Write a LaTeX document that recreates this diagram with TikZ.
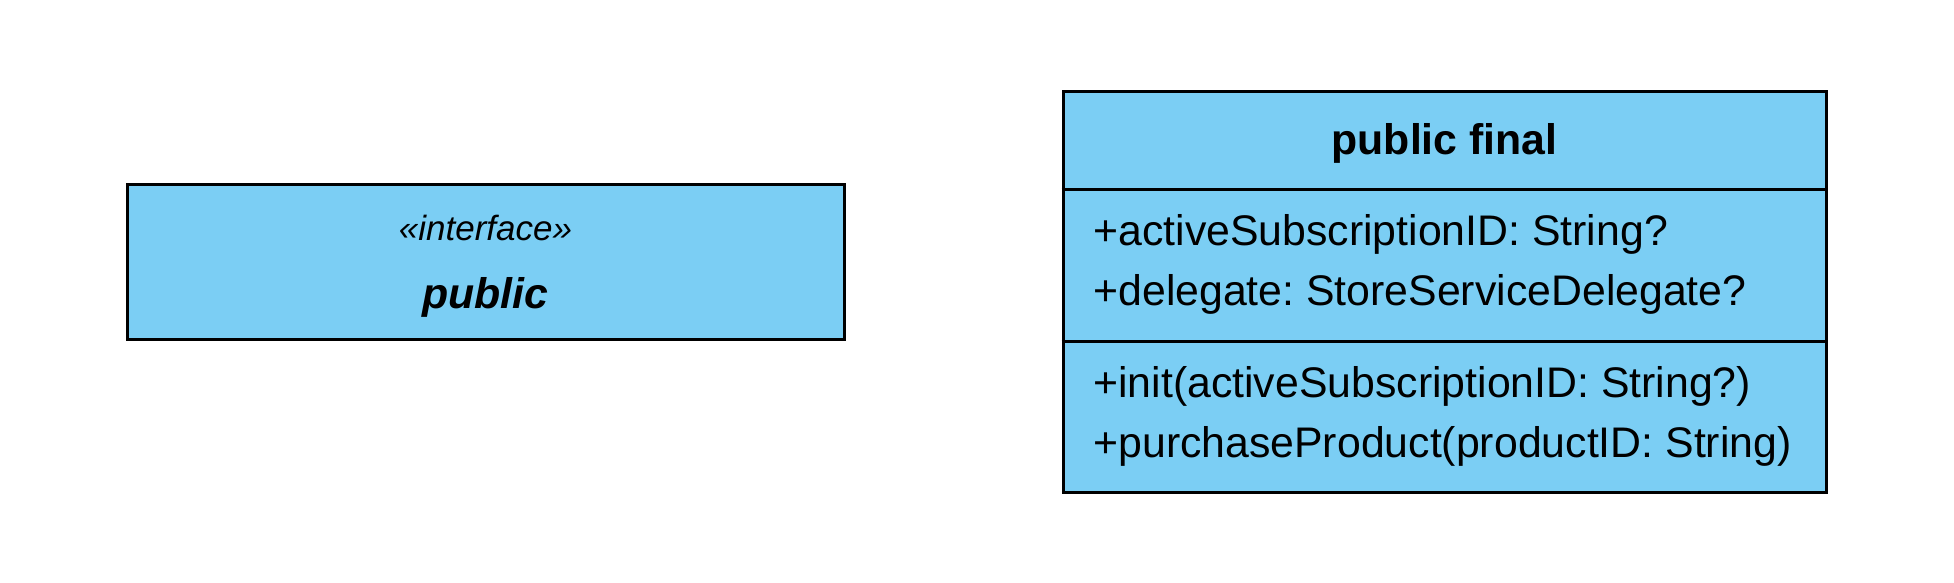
\documentclass[tikz,border=0pt]{standalone}
\usepackage{fontspec}
\setmainfont{Liberation Sans}
\usetikzlibrary{positioning}
\definecolor{classblue}{HTML}{7BCEF4}
\frenchspacing

\begin{document}
\begin{tikzpicture}[x=0.5pt,y=-0.5pt]
      \tikzstyle classbox=[draw=black, line width=1.5pt, fill=classblue,
      inner sep=0pt]
      \tikzstyle member=[anchor=base west, inner sep=0pt,
      font=\fontsize{21.4}{24}\selectfont]
      \tikzstyle classname=[anchor=base, inner sep=0pt,
      font=\fontsize{21.4}{24}\selectfont\bfseries]
      \useasboundingbox (0,0) rectangle (1954,583);
      % interface
      \node [classbox, minimum width=358.5pt, minimum height=77.5pt] (iface) at (485.5,261.5) {};
      \node [anchor=base, inner sep=0pt, font=\fontsize{17.5}{20}\selectfont\itshape] (stereo) at (485.5,240) {«interface»};
      \node [classname, font=\fontsize{21.4}{24}\selectfont\bfseries\itshape] (ifacename) at (485.5,308) {public};
      % final class
      \node [classbox, minimum width=381.5pt, minimum height=200pt] (final) at (1444.5,292) {};
      \node [classname] (finalname) at (1444.5,155) {public final};
      \coordinate (sep1) at (0,189.5);
      \coordinate (sep2) at (0,341);
      \draw [line width=1.5pt] (final.west |- sep1) -- (final.east |- sep1);
      \draw [line width=1.5pt] (final.west |- sep2) -- (final.east |- sep2);
      \node [member] (attr1) at (1093,245) {+activeSubscriptionID: String?};
      \node [member] (attr2) at (1093,305) {+delegate: StoreServiceDelegate?};
      \node [member] (op1) at (1093,397) {+init(activeSubscriptionID: String?)};
      \node [member] (op2) at (1093,457) {+purchaseProduct(productID: String)};
\end{tikzpicture}
\end{document}
